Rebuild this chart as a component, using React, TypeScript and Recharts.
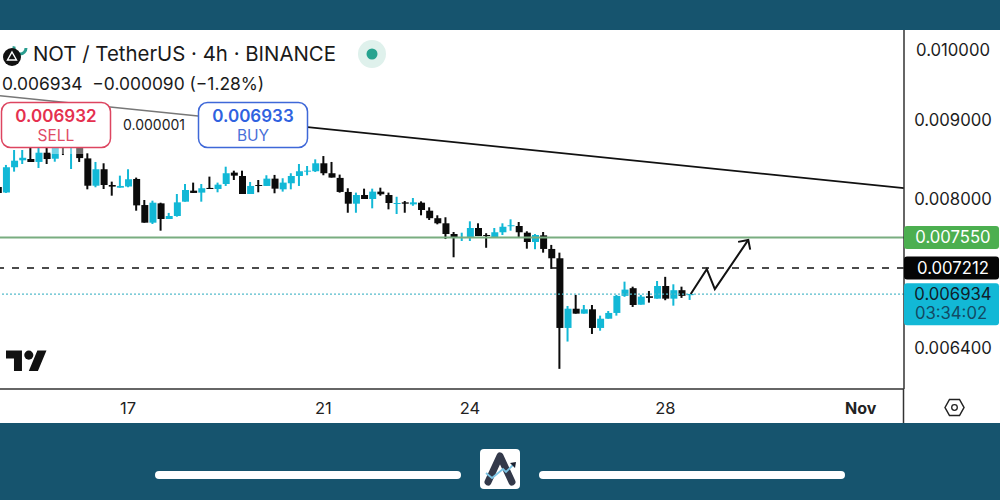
import { Bar, Cell, ComposedChart, Line, ReferenceLine, XAxis, YAxis } from 'recharts';

const UP = '#12b8d6';
const DOWN = '#0b0b0b';
const BAND = '#16546e';
const FONT = 'Inter, "Noto Sans", sans-serif';

// candles from index -1 (cut off by the left edge) to 84, one every 4h
const opens = [
  0.008144, 0.008075, 0.008388, 0.008476, 0.008492, 0.008455, 0.008573, 0.008496, 0.008699, 0.00866,
  0.008673, 0.0085, 0.008159, 0.008363, 0.008168, 0.008135, 0.008148, 0.008242, 0.007926, 0.007719,
  0.007946, 0.007762, 0.007797, 0.007966, 0.008099, 0.008075, 0.008132, 0.008119, 0.00818, 0.008321,
  0.008279, 0.008058, 0.008168, 0.008156, 0.008246, 0.008115, 0.008189, 0.008279, 0.008333, 0.008338,
  0.008438, 0.008313, 0.008255, 0.008083, 0.007942, 0.008046, 0.007998, 0.008087, 0.008046, 0.007938,
  0.007958, 0.007934, 0.007954, 0.007859, 0.007771, 0.007712, 0.007589, 0.007543, 0.007551, 0.007658,
  0.007578, 0.007547, 0.007609, 0.007678, 0.007681, 0.007604, 0.007499, 0.007574, 0.007421, 0.007318,
  0.006592, 0.006785, 0.006735, 0.006779, 0.006592, 0.006684, 0.006742, 0.006917, 0.006997, 0.006826,
  0.006913, 0.006888, 0.00702, 0.006888, 0.006976, 0.006924,
];
const highs = [
  0.008168, 0.008417, 0.008608, 0.008608, 0.008738, 0.008673, 0.008673, 0.008699, 0.00872, 0.008738,
  0.008738, 0.008565, 0.008455, 0.008438, 0.008209, 0.008283, 0.008363, 0.008259, 0.007986, 0.007978,
  0.007954, 0.007833, 0.008058, 0.00818, 0.008197, 0.00818, 0.008271, 0.008197, 0.008395, 0.008345,
  0.008345, 0.008205, 0.008229, 0.008288, 0.008292, 0.008251, 0.008313, 0.008429, 0.008404, 0.008488,
  0.00853, 0.008455, 0.008296, 0.008128, 0.008075, 0.008123, 0.008123, 0.008135, 0.008075, 0.008025,
  0.007974, 0.00801, 0.00797, 0.007899, 0.007805, 0.007782, 0.007612, 0.007604, 0.007735, 0.007712,
  0.007598, 0.007658, 0.007712, 0.007758, 0.007727, 0.00762, 0.007589, 0.007612, 0.007466, 0.00738,
  0.006813, 0.006927, 0.006823, 0.006823, 0.006715, 0.006762, 0.006927, 0.007066, 0.007013, 0.006927,
  0.006968, 0.007073, 0.007117, 0.007038, 0.007013, 0.006937,
];
const lows = [
  0.008046, 0.008071, 0.008333, 0.008429, 0.008455, 0.008379, 0.008429, 0.008458, 0.008543, 0.008366,
  0.008455, 0.008115, 0.00814, 0.008119, 0.008038, 0.008135, 0.00814, 0.007859, 0.007719, 0.007704,
  0.007627, 0.007762, 0.007789, 0.007966, 0.008071, 0.007966, 0.008119, 0.008079, 0.008156, 0.008229,
  0.008058, 0.008058, 0.008079, 0.008156, 0.008067, 0.008087, 0.008115, 0.008156, 0.008288, 0.008329,
  0.008288, 0.008259, 0.008075, 0.007835, 0.007835, 0.007998, 0.007887, 0.008038, 0.007875, 0.00782,
  0.007835, 0.007917, 0.007805, 0.00775, 0.0077, 0.007532, 0.007329, 0.00751, 0.00751, 0.007566,
  0.007434, 0.007547, 0.007578, 0.007627, 0.007551, 0.007424, 0.007418, 0.00738, 0.007202, 0.0062,
  0.006459, 0.006735, 0.006735, 0.006533, 0.006565, 0.006684, 0.006715, 0.006907, 0.006803, 0.006826,
  0.006847, 0.006888, 0.006872, 0.006816, 0.006896, 0.006875,
];
const closes = [
  0.008071, 0.008388, 0.008471, 0.008508, 0.008455, 0.008573, 0.008492, 0.008647, 0.008634, 0.008738,
  0.008504, 0.008159, 0.008363, 0.008168, 0.008148, 0.008156, 0.008238, 0.007922, 0.007719, 0.007954,
  0.007762, 0.007797, 0.007958, 0.008107, 0.008071, 0.008128, 0.008119, 0.008172, 0.008313, 0.008283,
  0.008058, 0.008156, 0.008156, 0.008246, 0.008123, 0.008197, 0.008279, 0.008338, 0.008345, 0.008438,
  0.008313, 0.008259, 0.008083, 0.007942, 0.008046, 0.007998, 0.008087, 0.008055, 0.00795, 0.00795,
  0.007942, 0.007958, 0.007867, 0.007771, 0.007712, 0.007589, 0.007547, 0.007555, 0.007658, 0.007566,
  0.007566, 0.007609, 0.007672, 0.007689, 0.007609, 0.007499, 0.007578, 0.007421, 0.007318, 0.006592,
  0.006785, 0.006735, 0.006779, 0.006592, 0.006684, 0.006742, 0.006917, 0.006982, 0.006823, 0.006909,
  0.006896, 0.00702, 0.006888, 0.006976, 0.006917, 0.006937,
];

const priceTicks = [0.01, 0.009, 0.008, 0.00755, 0.007212, 0.006934, 0.0064];
const dateTicks = [15, 39, 57, 81, 105];
const dateLabels = ['17', '21', '24', '28', 'Nov'];

// hand-drawn arrow on the chart: [candle index, price]
const arrowPath = [
  [84.13, 0.006936],
  [86.1, 0.0072],
  [87.09, 0.006988],
  [91.2, 0.007522],
];
const arrowHead = [
  [89.95, 0.0075],
  [91.2, 0.007522],
  [91.43, 0.007414],
];

const candles = opens.map((open, i) => ({
  idx: i - 1,
  up: closes[i] >= open,
  wick: [lows[i], highs[i]],
  body: [Math.min(open, closes[i]), Math.max(open, closes[i])],
}));
const toPoints = (pts: number[][]) => pts.map(([idx, price]) => ({ idx, price }));

const X_DOMAIN = [-0.738, 110.33];
const Y_DOMAIN = [0.0060155, 0.0103045];

const priceTag = (props: any) => {
  const { y, payload } = props;
  const v = payload.value;
  const text = v.toFixed(6);
  const tx = 953;
  const common = { textAnchor: 'middle' as const, fontFamily: FONT, fontSize: 16.7 };
  if (v === 0.00755 || v === 0.007212) {
    return (
      <g>
        <rect x={904} y={y - 11.5} width={95} height={23} rx={3} fill={v === 0.00755 ? '#4caf50' : '#050505'} />
        <text x={tx} y={y + 6} fill="#fff" {...common}>{text}</text>
      </g>
    );
  }
  if (v === 0.006934) {
    return (
      <g>
        <rect x={904} y={y - 11} width={95} height={42} rx={3} fill={UP} />
        <text x={tx} y={y + 6} fill="#10202a" {...common}>{text}</text>
        <text x={tx - 2} y={y + 25} fill="#134a63" {...common}>03:34:02</text>
      </g>
    );
  }
  return <text x={tx} y={y + 6} fill="#1c1c1c" {...common}>{text}</text>;
};

const Overlay = () => (
  <svg width={1000} height={500} style={{ position: 'absolute', left: 0, top: 0, pointerEvents: 'none' }}>
    <rect x={50} y={147} width={36} height={7} fill="#fff" opacity={0.4} />
    <circle cx={20} cy={48} r={6} fill="none" stroke="#2a9d8f" strokeWidth={3} strokeDasharray="20 20" />
    <circle cx={12} cy={57} r={9} fill="#111" />
    <path d="M12 52 L16.5 60 H7.5 Z" fill="none" stroke="#fff" strokeWidth={1.4} />
    <text x={33} y={61} fontFamily={FONT} fontSize={20.4} fill="#1a1a1a">NOT / TetherUS · 4h · BINANCE</text>
    <circle cx={372} cy={54} r={14} fill="#dff1ec" />
    <circle cx={372} cy={54} r={5.5} fill="#27a38f" />
    <text x={2} y={90} fontFamily={FONT} fontSize={17.4} fill="#1a1a1a" xmlSpace="preserve">0.006934  −0.000090 (−1.28%)</text>

    <rect x={1.5} y={102.5} width={109} height={45} rx={9} fill="#fff" stroke="#dd4560" strokeWidth={1.5} />
    <text x={56} y={122} textAnchor="middle" fontFamily={FONT} fontSize={17} fontWeight={600} fill="#e5304f">0.006932</text>
    <text x={56} y={141} textAnchor="middle" fontFamily={FONT} fontSize={15.5} fill="#e04c66">SELL</text>
    <text x={154} y={130} textAnchor="middle" fontFamily={FONT} fontSize={14} fill="#222">0.000001</text>
    <rect x={198.5} y={102.5} width={109} height={45} rx={9} fill="#fff" stroke="#3f68d8" strokeWidth={1.5} />
    <text x={253} y={122} textAnchor="middle" fontFamily={FONT} fontSize={17} fontWeight={600} fill="#2f62e0">0.006933</text>
    <text x={253} y={141} textAnchor="middle" fontFamily={FONT} fontSize={15.5} fill="#4a70d8">BUY</text>

    <g transform="translate(6,346) scale(1.14)" fill="#111">
      <path d="M14 22H7V11H0V4h14v18zM28 22h-8l7.5-18h8L28 22z" />
      <circle cx={20} cy={8} r={4} />
    </g>

    <line x1={903.5} y1={389} x2={903.5} y2={423} stroke="#333" strokeWidth={1.5} />
    <path d="M945 407.5 L949.5 399.5 H959.5 L964 407.5 L959.5 415.5 H949.5 Z" fill="none" stroke="#222" strokeWidth={1.5} />
    <circle cx={954.5} cy={407.5} r={2.8} fill="none" stroke="#222" strokeWidth={1.3} />

    <rect x={155} y={471} width={306} height={8} rx={4} fill="#fff" />
    <rect x={539} y={471} width={306} height={8} rx={4} fill="#fff" />
    <rect x={480} y={449} width={40} height={40} rx={4} fill="#fff" />
    <path d="M488 482 L500 456 L512 482" fill="none" stroke="#33394a" strokeWidth={7} strokeLinejoin="round" strokeLinecap="round" />
    <path d="M486 473 L492 478 L503 469 L506 472 L514 464" fill="none" stroke="#7cc4e4" strokeWidth={1.8} />
    <path d="M510 463 L516 462 L515 468 Z" fill="#1b2030" />
  </svg>
);

export default function App() {
  return (
    <div style={{ position: 'absolute', left: 0, top: 0, width: 1000, height: 500, background: BAND, overflow: 'hidden' }}>
      <div style={{ position: 'absolute', left: 0, top: 30, width: 1000, height: 393, background: '#fff' }} />
      <div style={{ position: 'absolute', left: 0, top: 0 }}>
        <ComposedChart
          width={1000}
          height={500}
          data={candles}
          margin={{ top: 30, right: 0, bottom: 77, left: 0 }}
        >
          <XAxis
            type="number"
            dataKey="idx"
            domain={X_DOMAIN}
            allowDataOverflow
            ticks={dateTicks}
            interval={0}
            height={34}
            tickLine={false}
            axisLine={{ stroke: '#333', strokeWidth: 1.5 }}
            tick={(props: any) => {
              const i = dateTicks.indexOf(props.payload.value);
              return (
                <text
                  x={props.x}
                  y={414}
                  textAnchor="middle"
                  fontFamily={FONT}
                  fontSize={dateLabels[i] === 'Nov' ? 16 : 16.5}
                  fontWeight={dateLabels[i] === 'Nov' ? 700 : 400}
                  fill="#222"
                >
                  {dateLabels[i]}
                </text>
              );
            }}
          />
          <XAxis xAxisId="wick" type="number" dataKey="idx" domain={X_DOMAIN} allowDataOverflow hide />
          <XAxis xAxisId="body" type="number" dataKey="idx" domain={X_DOMAIN} allowDataOverflow hide />
          <YAxis
            orientation="right"
            scale="log"
            domain={Y_DOMAIN}
            allowDataOverflow
            ticks={priceTicks}
            interval={0}
            width={96}
            tickLine={false}
            axisLine={{ stroke: '#333', strokeWidth: 1.5 }}
            tick={priceTag}
          />
          <ReferenceLine y={0.00755} stroke="#79ad80" strokeWidth={2} />
          <ReferenceLine y={0.007212} stroke="#111" strokeWidth={1.6} strokeDasharray="7 8" />
          <ReferenceLine y={0.006934} stroke="#55bccb" strokeWidth={1.3} strokeDasharray="2 2" />
          <ReferenceLine
            segment={[{ x: -0.738, y: 0.009338 }, { x: 23.6, y: 0.009058 }]}
            stroke="#777"
            strokeWidth={1.5}
          />
          <ReferenceLine
            segment={[{ x: 23.6, y: 0.009058 }, { x: 110.33, y: 0.00813 }]}
            stroke="#111"
            strokeWidth={1.8}
          />
          <Bar xAxisId="wick" dataKey="wick" barSize={2} isAnimationActive={false}>
            {candles.map((c) => (
              <Cell key={c.idx} fill={c.up ? UP : DOWN} />
            ))}
          </Bar>
          <Bar xAxisId="body" dataKey="body" barSize={7} isAnimationActive={false}>
            {candles.map((c) => (
              <Cell key={c.idx} fill={c.up ? UP : DOWN} />
            ))}
          </Bar>
          <Line
            data={toPoints(arrowPath)}
            dataKey="price"
            stroke="#111"
            strokeWidth={2}
            dot={false}
            isAnimationActive={false}
          />
          <Line
            data={toPoints(arrowHead)}
            dataKey="price"
            stroke="#111"
            strokeWidth={2}
            dot={false}
            isAnimationActive={false}
          />
        </ComposedChart>
      </div>
      <Overlay />
    </div>
  );
}
